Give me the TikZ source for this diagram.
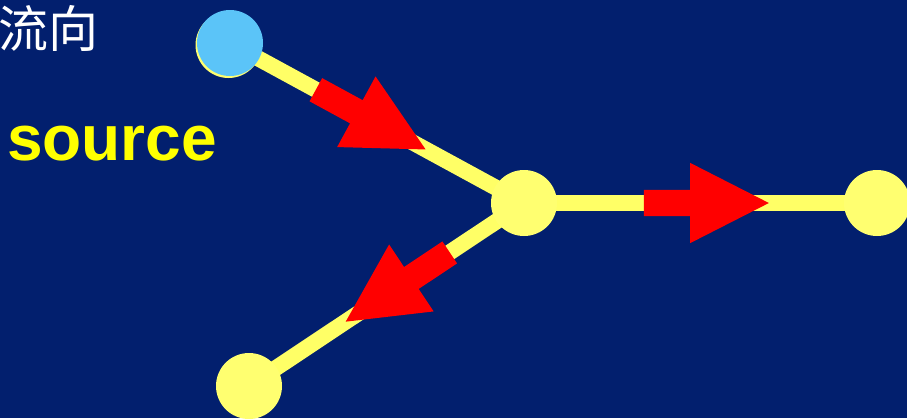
\documentclass[tikz,border=0pt]{standalone}
\usepackage{fontspec}
\setsansfont{Liberation Sans}
\newfontfamily\cjkfont{Noto Sans CJK SC}
\usepackage{xcolor}
\usetikzlibrary{shapes.arrows}
\definecolor{Navy}{HTML}{021F6E}
\definecolor{Pipe}{HTML}{FFFF66}
\definecolor{Dot}{HTML}{FFFF70}
\definecolor{Sky}{HTML}{5BC4F8}
\definecolor{Flow}{HTML}{FF0000}
\definecolor{Label}{HTML}{FFFF00}
\pgfdeclarelayer{bg}
\pgfdeclarelayer{edges}
\pgfsetlayers{bg,edges,main}

\begin{document}
\begin{tikzpicture}[x=1pt,y=-1pt,
  dot/.style={circle,fill=Dot,minimum size=66pt,inner sep=0pt},
  pipe/.style={draw=Pipe,line width=16pt},
  flow/.style={single arrow,fill=Flow,inner xsep=0pt,inner ysep=13pt,single arrow head extend=27pt,single arrow tip angle=54,minimum height=125pt,sloped,allow upside down}]
\useasboundingbox (0,0) rectangle (907,418);
\begin{pgfonlayer}{bg}
\fill[Navy] (0,0) rectangle (907,418);
\end{pgfonlayer}
% labels
\node[anchor=west,inner sep=0pt,text=white,font=\cjkfont\fontsize{50}{50}\selectfont] (flowlabel) at (-2,28) {流向};
\node[anchor=base west,inner sep=0pt,text=Label,font=\sffamily\bfseries\fontsize{64}{64}\selectfont] (srclabel) at (7,160) {source};
% junctions
\node[dot,fill=Sky,preaction={fill=Dot,transform canvas={xshift=-1.5pt,yshift=-2pt}}] (src) at (230,43) {};
\node[dot] (hub) at (524,203) {};
\node[dot] (sinkE) at (877,203) {};
\node[dot] (sinkS) at (249,386) {};
\begin{pgfonlayer}{edges}
\draw[pipe] (src.center) -- (hub.center);
\draw[pipe] (hub.center) -- (sinkE.center);
\draw[pipe] (hub.center) -- (sinkS.center);
\end{pgfonlayer}
% flow arrows
\path (src.center) -- (hub.center) node[flow,pos=0.44] (flowA) {};
\path (hub.center) -- (sinkE.center) node[flow,pos=0.48] (flowB) {};
\path (hub.center) -- (sinkS.center) node[flow,pos=0.42] (flowC) {};
\end{tikzpicture}
\end{document}
